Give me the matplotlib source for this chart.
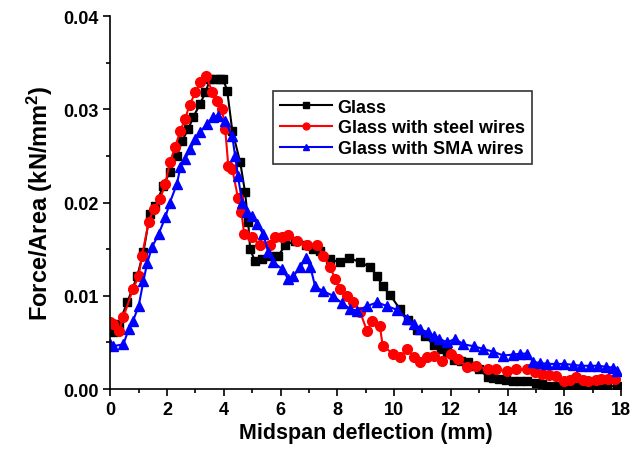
import numpy as np
import matplotlib
matplotlib.use("Agg")
import matplotlib.pyplot as plt
from matplotlib.ticker import MultipleLocator, FormatStrFormatter

plt.rcParams['font.family'] = ['Liberation Sans', 'DejaVu Sans']
plt.rcParams['font.weight'] = 'bold'
plt.rcParams['mathtext.fontset'] = 'custom'
plt.rcParams['mathtext.rm'] = 'Liberation Sans:bold'
plt.rcParams['mathtext.default'] = 'rm'

# Glass
glass_x = [0.0, 0.1, 0.3, 0.6, 0.95, 1.17, 1.4, 1.58, 1.87, 2.1, 2.35, 2.53, 2.75, 2.93,
           3.17, 3.35, 3.52, 3.7, 3.85, 3.98, 4.12, 4.3, 4.58, 4.75, 4.86, 4.93, 5.1, 5.35,
           5.64, 5.92, 6.16, 6.5, 6.9, 7.15, 7.4, 7.75, 8.1, 8.4, 8.8, 9.16, 9.4, 9.6, 9.86,
           10.2, 10.5, 10.8, 11.1, 11.4, 11.65, 11.87, 12.1, 12.35, 12.6, 12.8, 13.0, 13.3,
           13.5, 13.7, 13.95, 14.2, 14.45, 14.7, 15.0, 15.2, 15.4, 15.7, 16.0, 16.3, 16.6,
           16.9, 17.2, 17.5, 17.86]
glass_y = [0.0065, 0.0061, 0.0070, 0.0093, 0.0121, 0.0147, 0.0188, 0.0196, 0.0218, 0.0233,
           0.0250, 0.0266, 0.0279, 0.0292, 0.0306, 0.0318, 0.0332, 0.0333, 0.0333, 0.0332,
           0.0320, 0.0277, 0.0243, 0.0211, 0.0179, 0.0150, 0.0137, 0.0140, 0.0143, 0.0143,
           0.0154, 0.0159, 0.0154, 0.0150, 0.0148, 0.0139, 0.0136, 0.0141, 0.0136, 0.0131,
           0.0121, 0.0110, 0.0101, 0.0086, 0.0074, 0.0063, 0.0057, 0.0047, 0.0043, 0.0040,
           0.0031, 0.0030, 0.0029, 0.0025, 0.0021, 0.0013, 0.0012, 0.0011, 0.0010, 0.0009,
           0.0009, 0.0009, 0.0007, 0.0005, 0.0003, 0.0003, 0.0003, 0.0003, 0.0004, 0.0004,
           0.0003, 0.0003, 0.0003]

# Glass with steel wires
steel_x = [0.0, 0.1, 0.3, 0.46, 0.8, 1.0, 1.12, 1.35, 1.53, 1.76, 1.94, 2.1, 2.29, 2.47, 2.64,
           2.8, 3.0, 3.17, 3.38, 3.6, 3.77, 3.94, 4.05, 4.16, 4.3, 4.5, 4.62, 4.72, 5.0, 5.28,
           5.64, 5.8, 6.05, 6.27, 6.58, 6.93, 7.3, 7.5, 7.75, 7.92, 8.1, 8.35, 8.56, 8.8, 9.05,
           9.23, 9.5, 9.6, 9.97, 10.2, 10.46, 10.7, 10.9, 11.15, 11.4, 11.7, 12.0, 12.26,
           12.57, 12.9, 13.3, 13.6, 13.98, 14.3, 14.7, 14.95, 15.2, 15.45, 15.7, 16.0, 16.2,
           16.4, 16.65, 16.85, 17.1, 17.3, 17.55, 17.8]
steel_y = [0.0072, 0.0070, 0.0062, 0.0077, 0.0107, 0.0121, 0.0143, 0.0179, 0.0193, 0.0204,
           0.0220, 0.0243, 0.0260, 0.0277, 0.0290, 0.0305, 0.0318, 0.0329, 0.0336, 0.0318,
           0.0309, 0.0300, 0.0279, 0.0239, 0.0236, 0.0205, 0.0190, 0.0166, 0.0163, 0.0154,
           0.0154, 0.0163, 0.0163, 0.0165, 0.0159, 0.0155, 0.0155, 0.0143, 0.0131, 0.0118,
           0.0107, 0.0100, 0.0093, 0.0083, 0.0062, 0.0073, 0.0068, 0.0046, 0.0038, 0.0034,
           0.0043, 0.0034, 0.0029, 0.0034, 0.0035, 0.0030, 0.0038, 0.0032, 0.0024, 0.0025,
           0.0021, 0.0021, 0.0019, 0.0021, 0.0021, 0.0018, 0.0016, 0.0015, 0.0014, 0.0009,
           0.0010, 0.0013, 0.0010, 0.0009, 0.0010, 0.0011, 0.0011, 0.0011]

# Glass with SMA wires
sma_x = [0.0, 0.1, 0.46, 0.65, 0.8, 1.0, 1.17, 1.3, 1.47, 1.7, 1.94, 2.1, 2.35, 2.47, 2.64,
         2.82, 3.0, 3.17, 3.4, 3.63, 3.8, 4.05, 4.3, 4.4, 4.5, 4.65, 4.83, 5.0, 5.18, 5.39,
         5.57, 5.74, 6.05, 6.27, 6.45, 6.7, 6.9, 7.05, 7.22, 7.5, 7.85, 8.17, 8.45, 8.7, 9.05,
         9.4, 9.75, 10.1, 10.46, 10.7, 10.9, 11.2, 11.4, 11.6, 11.87, 12.15, 12.44, 12.8,
         13.15, 13.5, 13.85, 14.2, 14.45, 14.7, 14.9, 15.15, 15.4, 15.7, 16.0, 16.3, 16.6,
         16.9, 17.2, 17.45, 17.7, 17.86]
sma_y = [0.0048, 0.0046, 0.0048, 0.0064, 0.0073, 0.0089, 0.0116, 0.0135, 0.0152, 0.0166,
         0.0184, 0.0200, 0.0220, 0.0238, 0.0247, 0.0257, 0.0268, 0.0276, 0.0284, 0.0292,
         0.0293, 0.0287, 0.0271, 0.0250, 0.0228, 0.0200, 0.0190, 0.0186, 0.0177, 0.0166,
         0.0147, 0.0136, 0.0129, 0.0118, 0.0121, 0.0131, 0.0141, 0.0131, 0.0110, 0.0105,
         0.0100, 0.0092, 0.0086, 0.0084, 0.0089, 0.0093, 0.0089, 0.0085, 0.0075, 0.0070,
         0.0064, 0.0061, 0.0057, 0.0054, 0.0050, 0.0054, 0.0048, 0.0046, 0.0043, 0.0040,
         0.0036, 0.0037, 0.0038, 0.0038, 0.0029, 0.0028, 0.0027, 0.0027, 0.0027, 0.0026,
         0.0025, 0.0025, 0.0025, 0.0024, 0.0023, 0.0019]

fig = plt.figure(figsize=(6.41, 4.60), dpi=100)
ax = fig.add_axes([0.172, 0.152, 0.797, 0.811])

ax.plot(glass_x, glass_y, color='black', marker='s', markersize=6, lw=1.5, label='Glass')
ax.plot(steel_x, steel_y, color='red', marker='o', markersize=7, lw=1.5,
        label='Glass with steel wires')
ax.plot(sma_x, sma_y, color='blue', marker='^', markersize=7, lw=1.5,
        label='Glass with SMA wires')

ax.set_xlim(0, 18)
ax.set_ylim(0, 0.04)
ax.xaxis.set_major_locator(MultipleLocator(2))
ax.xaxis.set_minor_locator(MultipleLocator(1))
ax.yaxis.set_major_locator(MultipleLocator(0.01))
ax.yaxis.set_minor_locator(MultipleLocator(0.005))
ax.yaxis.set_major_formatter(FormatStrFormatter('%.2f'))
ax.tick_params(which='major', direction='out', length=5, width=1.2, labelsize=13)
ax.tick_params(which='minor', direction='out', length=3, width=1.2)
for lbl in ax.get_xticklabels() + ax.get_yticklabels():
    lbl.set_fontweight('bold')

for s in ['top', 'right']:
    ax.spines[s].set_visible(False)
for s in ['left', 'bottom']:
    ax.spines[s].set_linewidth(1.2)

ax.set_xlabel('Midspan deflection (mm)', fontsize=15.5, fontweight='bold', labelpad=3)
ax.set_ylabel('Force/Area (kN/mm$^2$)', fontsize=17, fontweight='bold', labelpad=6)

leg = ax.legend(loc='upper left', bbox_to_anchor=(0.30, 0.822), fancybox=False,
                edgecolor='black', prop={'size': 13, 'weight': 'bold'},
                handlelength=2.9, handletextpad=0.3, borderpad=0.4, labelspacing=0.2,
                markerscale=0.7)
leg.get_frame().set_linewidth(1.2)

fig.savefig('out.png', dpi=100)
